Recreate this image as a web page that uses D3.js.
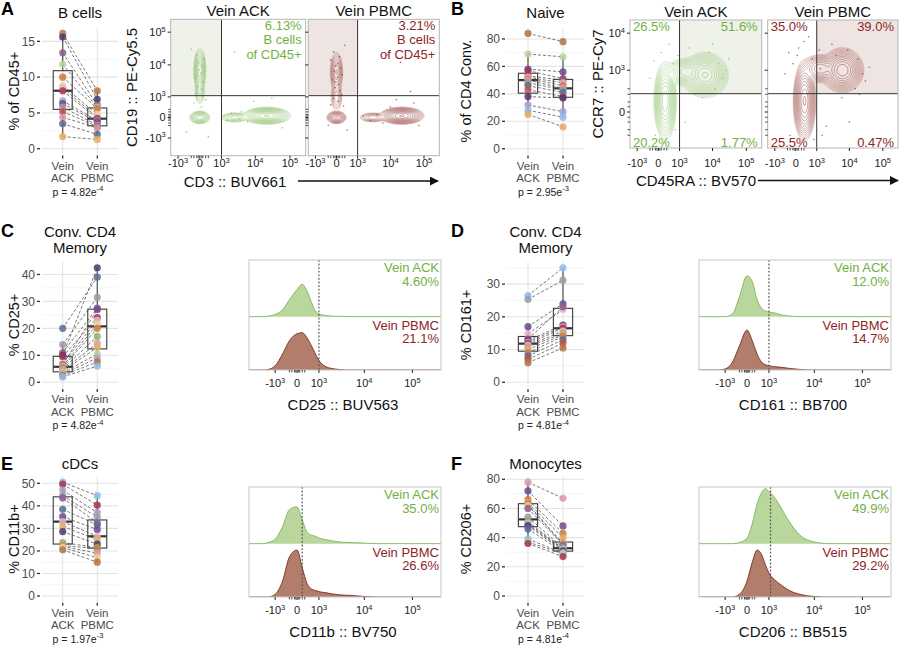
<!DOCTYPE html>
<html>
<head>
<meta charset="utf-8">
<script src="https://cdn.jsdelivr.net/npm/d3@7/dist/d3.min.js"></script>
<style>
  html,body{margin:0;padding:0;background:#fff;}
  svg text{font-family:"Liberation Sans",Arial,Helvetica,sans-serif;}
</style>
</head>
<body>
<svg id="fig" width="900" height="651" viewBox="0 0 900 651"></svg>
<script>
// ======================= DATA =======================
const groupNames = ["Vein ACK", "Vein PBMC"];
const groupLabelLines = [["Vein", "ACK"], ["Vein", "PBMC"]];

// donor identities -> colour palette (one colour per donor)
const donorPalette = ["#b27447","#4a3a6c","#8e5a8c","#b6d39a","#cf7a3e","#e4d49f","#e8b6c4","#a9344d",
                      "#a99ecb","#6c4b8d","#d89aa9","#5a6c92","#e3ad64","#8dbbea","#8db567","#9d9aa6","#c0504d"];

// A – B cells, % of CD45+
const bcellDonors = [1,2,3,4,5,6,7,8,9,10,16,17,11,12,13];
const bcellACK    = [16.1,15.6,13.4,11.8,10.0,8.8,8.5,8.1,6.7,6.3,5.8,5.2,4.4,3.5,1.7];
const bcellPBMC   = [8.1,6.9,6.1,5.8,5.6,4.8,4.4,4.2,3.9,3.75,3.3,3.1,2.9,2.0,1.3];
const bcellTicks  = [0,5,10,15];

// B – Naive, % of CD4 Conv.
const naiveDonors = [1,4,10,8,3,7,5,11,16,12,17,2,9,14,13];
const naiveACK    = [84,69,58,57,53,52,51,50,48,46,43,38,32,28,25];
const naivePBMC   = [78,67,56,51,50,48,46,44,43,41,38,37,27,23,16];
const naiveTicks  = [0,20,40,60,80];

// C – Conv. CD4 memory, % CD25+
const cd25Donors = [12,16,3,2,8,7,10,6,5,15,11,13,4,9,1,14];
const cd25ACKv   = [20,14,11,10,9.5,7,6.5,6,5.5,5,4.5,4,3.5,3,2.5,2];
const cd25PBMCv  = [39,31.5,27.5,42.5,24,23,27,21.5,20,17,14.5,13,10.5,9,7.5,6];
const cd25Ticks  = [0,10,20,30,40];

// D – Conv. CD4 memory, % CD161+
const cd161Donors = [14,16,10,7,3,2,11,8,6,9,13,5,12,17,1];
const cd161ACKv   = [26.5,25.3,17,14.8,13.2,12.8,12.3,11.8,11.3,10.8,10,9,8,7,6];
const cd161PBMCv  = [35,31.2,24,22.2,23,17.5,17,16.5,15.6,15,14.5,14,13,12,10.5];
const cd161Ticks  = [0,10,20,30];

// E – cDCs, % CD11b+
const cd11bDonors = [14,8,9,16,3,12,10,7,13,2,15,5,11,6,1];
const cd11bACKv   = [50.5,49.6,47,44.5,43.5,38.5,35.2,33,30.8,28.6,23.7,22.4,22,21.5,20.5];
const cd11bPBMCv  = [44.5,40.3,37,35,32.5,31.5,29.5,26.5,25,23,21.5,21,19,17,15];
const cd11bTicks  = [0,10,20,30,40,50];

// F – Monocytes, % CD206+
const cd206Donors = [11,10,5,13,1,6,3,16,15,7,9,2,12,14,4,8];
const cd206ACKv   = [78,72,66,64,63,62,60,54,51,50,49,48,46,39,37,36];
const cd206PBMCv  = [67,48,43,40,36,35.5,35,33,32.5,32,31.5,31,30,29.5,29,27];
const cd206Ticks  = [0,20,40,60,80];

// flow axis ticks (biexponential display)
const flowTickValues = [-1000, 0, 1000, 10000, 100000];
const flowTickLabels = [["-10","3"],["0",""],["10","3"],["10","4"],["10","5"]];
const flowTickValuesCCR7 = [0, 1000, 10000];
const flowTickLabelsCCR7 = [["0",""],["10","3"],["10","4"]];
const minorTickValues = [-300,-200,-100,-50,50,100,200,300];

// flow populations (centre in fluorescence units, spread in asinh units, relative density)
const bcellFlowACK = [
  {x:0, y:6900, sx:0.13, sy:0.50, w:0.22},
  {x:0, y:1500, sx:0.12, sy:0.35, w:0.04},
  {x:0, y:0, sx:0.21, sy:0.14, w:0.30},
  {x:21600, y:60, sx:0.45, sy:0.17, w:1.00},
  {x:2500, y:0, sx:0.32, sy:0.12, w:0.07}];
const bcellFlowPBMC = [
  {x:0, y:6000, sx:0.15, sy:0.50, w:0.09},
  {x:0, y:1000, sx:0.15, sy:0.40, w:0.03},
  {x:0, y:0, sx:0.21, sy:0.14, w:0.25},
  {x:22000, y:60, sx:0.43, sy:0.17, w:1.00},
  {x:3000, y:0, sx:0.34, sy:0.12, w:0.05}];
const naiveFlowACK = [
  {x:6000, y:740, sx:0.45, sy:0.40, w:1.00},
  {x:240, y:110, sx:0.22, sy:0.70, w:0.85},
  {x:1500, y:890, sx:0.42, sy:0.28, w:0.18}];
const naiveFlowPBMC = [
  {x:6200, y:1000, sx:0.42, sy:0.40, w:0.85},
  {x:320, y:110, sx:0.22, sy:0.70, w:1.00},
  {x:1300, y:1100, sx:0.42, sy:0.28, w:0.22}];

// sparse individual events outside the contours
const bcellEventsACK = [
  {x:-100,y:20000},{x:150,y:15000},{x:-50,y:12000},{x:80,y:9000},{x:-150,y:4000},{x:100,y:3000},{x:-80,y:2200},
  {x:60,y:1800},{x:-120,y:1300},{x:200,y:800},{x:-200,y:600},{x:50,y:400},{x:1500,y:-100},{x:2000,y:150},
  {x:3500,y:-50},{x:4000,y:200},{x:6000,y:-150},{x:1200,y:50},{x:9000,y:700},{x:30000,y:900},{x:60000,y:-400},
  {x:-500,y:-600},{x:300,y:-900},{x:-300,y:30000},{x:2500,y:25000},{x:-20,y:7000},{x:40,y:5500}];
const bcellEventsPBMC = [
  {x:-100,y:25000},{x:100,y:18000},{x:-200,y:14000},{x:50,y:11000},{x:150,y:8000},{x:-80,y:6500},{x:200,y:5000},
  {x:-150,y:3500},{x:80,y:2500},{x:-50,y:2000},{x:120,y:1600},{x:-100,y:900},{x:60,y:700},{x:-200,y:500},
  {x:250,y:450},{x:-300,y:-300},{x:400,y:-500},{x:1500,y:50},{x:2500,y:-100},{x:4000,y:100},{x:6000,y:-200},
  {x:15000,y:800},{x:40000,y:1500},{x:70000,y:-300},{x:20000,y:12000},{x:8000,y:20000},{x:300,y:40000},
  {x:-30,y:9500},{x:30,y:4200},{x:-60,y:3000},{x:180,y:1200},{x:10000,y:400},{x:50000,y:600}];
const naiveEventsACK = [
  {x:100,y:3000},{x:400,y:5000},{x:2000,y:4000},{x:8000,y:3000},{x:15000,y:1500},{x:20000,y:600},{x:12000,y:300},
  {x:3000,y:200},{x:-100,y:-300},{x:700,y:-200},{x:1500,y:-100},{x:-300,y:600},{x:200,y:-500},{x:5000,y:150},
  {x:30000,y:2000},{x:600,y:1500},{x:-150,y:1800},{x:900,y:2500},{x:10000,y:5000},{x:25000,y:1000}];
const naiveEventsPBMC = [
  {x:100,y:4000},{x:300,y:6000},{x:1200,y:3500},{x:3000,y:5000},{x:9000,y:3500},{x:18000,y:2000},{x:25000,y:800},
  {x:15000,y:300},{x:6000,y:150},{x:-200,y:-300},{x:800,y:-400},{x:2000,y:-150},{x:-400,y:800},{x:50,y:2500},
  {x:40000,y:1200},{x:10000,y:-100},{x:500,y:8000},{x:-100,y:1500},{x:700,y:2000},{x:-250,y:3000},{x:4000,y:2500},
  {x:20000,y:200},{x:30000,y:500},{x:1500,y:-300}];

// quadrant frequencies
const bcellPctACK = "6.13%", bcellPctPBMC = "3.21%";
const naiveQuadACK  = ["26.5%","51.6%","20.2%","1.77%"];
const naiveQuadPBMC = ["35.0%","39.0%","25.5%","0.47%"];

// histograms (fraction of lane height at each fluorescence value)
const histGrid = [-4000,-3000,-2000,-1500,-1000,-600,-300,0,200,400,600,800,1000,1500,2000,3000,5000,10000,20000,50000,100000,200000,400000];
const cd25HistACK   = [0,0,0,0.01,0.04,0.12,0.30,0.48,0.57,0.45,0.25,0.10,0.05,0.02,0.01,0.005,0,0,0,0,0,0,0];
const cd25HistPBMC  = [0,0,0,0.01,0.08,0.30,0.55,0.68,0.70,0.60,0.45,0.30,0.18,0.06,0.03,0.01,0,0,0,0,0,0,0];
const cd161HistACK  = [0,0,0,0,0,0.05,0.35,0.72,0.62,0.30,0.15,0.10,0.08,0.06,0.03,0.01,0,0,0,0,0,0,0];
const cd161HistPBMC = [0,0,0,0,0.02,0.15,0.45,0.75,0.55,0.30,0.15,0.10,0.08,0.06,0.05,0.03,0.01,0,0,0,0,0,0];
const cd11bHistACK  = [0,0,0,0.02,0.08,0.30,0.60,0.65,0.42,0.20,0.15,0.13,0.10,0.07,0.05,0.03,0.02,0.01,0,0,0,0,0];
const cd11bHistPBMC = [0,0,0,0,0.05,0.30,0.75,0.88,0.55,0.25,0.15,0.12,0.10,0.08,0.06,0.04,0.03,0.01,0,0,0,0,0];
const cd206HistACK  = [0,0,0,0,0,0,0.02,0.10,0.35,0.70,0.90,0.97,0.92,0.78,0.62,0.38,0.15,0.03,0,0,0,0,0];
const cd206HistPBMC = [0,0,0,0,0,0,0.05,0.30,0.65,0.88,0.80,0.60,0.45,0.30,0.22,0.12,0.05,0.01,0,0,0,0,0];
const histPct = {cd25:["4.60%","21.1%"], cd161:["12.0%","14.7%"], cd11b:["35.0%","26.6%"], cd206:["49.9%","29.2%"]};
const histGates = {cd25:1000, cd161:1000, cd11b:200, cd206:1100};

// ======================= DRAWING =======================
const svg = d3.select("#fig");
svg.append("rect").attr("width",900).attr("height",651).attr("fill","#fff");
const defs = svg.append("defs");
defs.append("marker").attr("id","arrowHead").attr("viewBox","0 0 10 10").attr("refX",9).attr("refY",5)
  .attr("markerWidth",9).attr("markerHeight",9).attr("orient","auto").attr("markerUnits","userSpaceOnUse")
  .append("path").attr("d","M0,0 L10,5 L0,10 z").attr("fill","#111");

const GREEN_TXT = "#72b043", RED_TXT = "#8c2626";
const AX_TXT = "#4d4d4d";

function supText(sel, base, sup, size) {
  sel.append("tspan").text(base);
  if (sup) sel.append("tspan").attr("font-size", size).attr("dy", -size*0.6).text(sup);
}

const rows = [{top:27.7,bottom:154.5},{top:262,bottom:388},{top:476.5,bottom:601.7}];

function drawBoxPanel(cfg) {
  const row = rows[cfg.row];
  const g = svg.append("g");
  const x = d3.scalePoint().domain(groupNames).range([cfg.left, cfg.right]).padding(0.6);
  const M = d3.max(cfg.ack.concat(cfg.pbmc));
  const y = d3.scaleLinear().domain([-0.05*M, 1.05*M]).range([row.bottom, row.top]);
  const [d0, d1] = y.domain();
  const step = cfg.ticks[1]-cfg.ticks[0];
  const minor = d3.range(cfg.ticks[0]-step/2, d1, step).filter(v => v >= d0 && v <= d1);
  g.selectAll(null).data(minor).join("line")
    .attr("x1",cfg.left).attr("x2",cfg.right).attr("y1",d=>y(d)).attr("y2",d=>y(d))
    .attr("stroke","#f2f2f2").attr("stroke-width",0.8);
  g.selectAll(null).data(cfg.ticks).join("line")
    .attr("x1",cfg.left).attr("x2",cfg.right).attr("y1",d=>y(d)).attr("y2",d=>y(d))
    .attr("stroke","#e4e4e4").attr("stroke-width",1.1);
  g.selectAll(null).data(groupNames).join("line")
    .attr("x1",d=>x(d)).attr("x2",d=>x(d)).attr("y1",row.top).attr("y2",row.bottom)
    .attr("stroke","#e4e4e4").attr("stroke-width",1.1);
  // y axis
  g.selectAll(null).data(cfg.ticks).join("line")
    .attr("x1",cfg.left-5).attr("x2",cfg.left-2).attr("y1",d=>y(d)).attr("y2",d=>y(d))
    .attr("stroke","#333").attr("stroke-width",1.3);
  g.selectAll(null).data(cfg.ticks).join("text")
    .attr("x",cfg.left-7).attr("y",d=>y(d)+4.2).attr("text-anchor","end")
    .attr("font-size",12).attr("fill",AX_TXT).text(d=>d);
  // x axis
  g.selectAll(null).data(groupNames).join("line")
    .attr("x1",d=>x(d)).attr("x2",d=>x(d)).attr("y1",row.bottom+1).attr("y2",row.bottom+4)
    .attr("stroke","#333").attr("stroke-width",1.3);
  groupNames.forEach((gn,gi) => {
    groupLabelLines[gi].forEach((ln,li) => {
      g.append("text").attr("x",x(gn)).attr("y",row.bottom+15+li*12.5).attr("text-anchor","middle")
        .attr("font-size",11.5).attr("fill",AX_TXT).text(ln);
    });
  });
  const midX = (x(groupNames[0])+x(groupNames[1]))/2;
  const pt = g.append("text").attr("x",midX-2).attr("y",row.bottom+41).attr("text-anchor","middle")
    .attr("font-size",10.5).attr("fill","#222");
  supText(pt, "p = "+cfg.p[0]+"e", cfg.p[1], 7.5);
  // title
  cfg.title.forEach((t,i) => {
    g.append("text").attr("x",midX).attr("y",cfg.titleY+i*16).attr("text-anchor","middle")
      .attr("font-size",15).attr("fill","#111").text(t);
  });
  // letter
  g.append("text").attr("x",cfg.letterX).attr("y",cfg.letterY).attr("font-size",18)
    .attr("font-weight","bold").attr("fill","#000").text(cfg.letter);
  // y title
  g.append("text").attr("transform",`translate(${cfg.ylabX},${(row.top+row.bottom)/2}) rotate(-90)`)
    .attr("text-anchor","middle").attr("font-size",14.5).attr("fill","#111").text(cfg.ylab);
  // boxes
  [cfg.ack, cfg.pbmc].forEach((vals, gi) => {
    const s = vals.slice().sort(d3.ascending);
    const q1 = d3.quantileSorted(s,0.25), med = d3.quantileSorted(s,0.5), q3 = d3.quantileSorted(s,0.75);
    const iqr = q3-q1;
    const lo = d3.min(s.filter(v => v >= q1-1.5*iqr)), hi = d3.max(s.filter(v => v <= q3+1.5*iqr));
    const cx = x(groupNames[gi]), bw = x.step()*0.55;
    g.append("line").attr("x1",cx).attr("x2",cx).attr("y1",y(hi)).attr("y2",y(q3)).attr("stroke","#444").attr("stroke-width",1.1);
    g.append("line").attr("x1",cx).attr("x2",cx).attr("y1",y(q1)).attr("y2",y(lo)).attr("stroke","#444").attr("stroke-width",1.1);
    g.append("rect").attr("x",cx-bw/2).attr("y",y(q3)).attr("width",bw).attr("height",y(q1)-y(q3))
      .attr("fill","none").attr("stroke","#3a3a3a").attr("stroke-width",1.1);
    g.append("line").attr("x1",cx-bw/2).attr("x2",cx+bw/2).attr("y1",y(med)).attr("y2",y(med))
      .attr("stroke","#333").attr("stroke-width",2.2);
  });
  // paired lines
  g.selectAll(null).data(cfg.ack).join("line")
    .attr("x1",x(groupNames[0])).attr("x2",x(groupNames[1]))
    .attr("y1",d=>y(d)).attr("y2",(d,i)=>y(cfg.pbmc[i]))
    .attr("stroke","#555").attr("stroke-width",0.8).attr("stroke-dasharray","3,2");
  // points
  [cfg.ack, cfg.pbmc].forEach((vals, gi) => {
    g.selectAll(null).data(vals).join("circle")
      .attr("cx",x(groupNames[gi])).attr("cy",d=>y(d)).attr("r",3.6)
      .attr("fill",(d,i)=>donorPalette[(cfg.donors[i]-1)%donorPalette.length]).attr("fill-opacity",0.85);
  });
}

let clipCount = 0;
function drawFlow(cfg) {
  const f = cfg.frame;
  const g = svg.append("g");
  const xS = d3.scaleLinear().domain([Math.asinh(cfg.xDom[0]/cfg.xc), Math.asinh(cfg.xDom[1]/cfg.xc)]).range([f.left, f.left+f.w]);
  const yS = d3.scaleLinear().domain([Math.asinh(cfg.yDom[0]/cfg.yc), Math.asinh(cfg.yDom[1]/cfg.yc)]).range([f.top+f.h, f.top]);
  const X = v => xS(Math.asinh(v/cfg.xc)), Y = v => yS(Math.asinh(v/cfg.yc));
  const cid = "clip"+(clipCount++);
  defs.append("clipPath").attr("id",cid).append("rect").attr("x",f.left).attr("y",f.top).attr("width",f.w).attr("height",f.h);
  const inner = g.append("g").attr("clip-path",`url(#${cid})`);
  // shaded gate
  const gx = X(cfg.gateX), gy = Y(cfg.gateY);
  if (cfg.shade === "TL") inner.append("rect").attr("x",f.left).attr("y",f.top).attr("width",gx-f.left).attr("height",gy-f.top).attr("fill",cfg.shadeColor);
  else inner.append("rect").attr("x",gx).attr("y",f.top).attr("width",f.left+f.w-gx).attr("height",gy-f.top).attr("fill",cfg.shadeColor);
  // density grid from populations
  const nx = Math.round(f.w), ny = Math.round(f.h);
  const vals = new Float64Array(nx*ny);
  const pops = cfg.pops.map(p => ({cx:Math.asinh(p.x/cfg.xc), cy:Math.asinh(p.y/cfg.yc), sx:p.sx, sy:p.sy, w:p.w}));
  for (let j=0;j<ny;j++) {
    const ty = yS.invert(f.top+j+0.5);
    for (let i=0;i<nx;i++) {
      const tx = xS.invert(f.left+i+0.5);
      let s = 0;
      for (const p of pops) {
        const dx=(tx-p.cx)/p.sx, dy=(ty-p.cy)/p.sy;
        s += p.w*Math.exp(-0.5*(dx*dx+dy*dy));
      }
      vals[j*nx+i] = s;
    }
  }
  const mx = d3.max(vals);
  const thr = d3.range(14).map(k => mx*0.92*Math.pow(0.62,k)).reverse();
  const cont = d3.contours().size([nx,ny]).thresholds(thr)(vals);
  // individual events
  inner.selectAll(null).data(cfg.events).join("circle")
    .attr("cx",d=>X(d.x)).attr("cy",d=>Y(d.y)).attr("r",0.8)
    .attr("fill",cfg.color).attr("fill-opacity",0.8);
  inner.append("g").attr("transform",`translate(${f.left},${f.top})`)
    .selectAll("path").data(cont).join("path").attr("d",d3.geoPath())
    .attr("fill","none").attr("stroke",cfg.color).attr("stroke-width",0.6)
    .attr("stroke-opacity",(d,i)=>0.4+0.55*i/cont.length);
  // gates
  g.append("line").attr("x1",gx).attr("x2",gx).attr("y1",f.top).attr("y2",f.top+f.h).attr("stroke","#333").attr("stroke-width",1);
  g.append("line").attr("x1",f.left).attr("x2",f.left+f.w).attr("y1",gy).attr("y2",gy).attr("stroke","#333").attr("stroke-width",1);
  // frame
  g.append("rect").attr("x",f.left).attr("y",f.top).attr("width",f.w).attr("height",f.h)
    .attr("fill","none").attr("stroke","#b5b5b5").attr("stroke-width",1);
  // ticks
  const bt = f.top+f.h;
  g.selectAll(null).data(cfg.xTicks).join("line").attr("x1",d=>X(d)).attr("x2",d=>X(d)).attr("y1",bt).attr("y2",bt+3).attr("stroke","#222");
  g.selectAll(null).data(minorTickValues).join("line").attr("x1",d=>X(d)).attr("x2",d=>X(d)).attr("y1",bt).attr("y2",bt+2.5).attr("stroke","#222").attr("stroke-width",0.8);
  g.selectAll(null).data(cfg.yTicks).join("line").attr("x1",f.left-3).attr("x2",f.left).attr("y1",d=>Y(d)).attr("y2",d=>Y(d)).attr("stroke","#222");
  g.selectAll(null).data(minorTickValues).join("line").attr("x1",f.left-2.5).attr("x2",f.left).attr("y1",d=>Y(d)).attr("y2",d=>Y(d)).attr("stroke","#222").attr("stroke-width",0.8);
  cfg.xTicks.forEach((v,i) => {
    const t = g.append("text").attr("x",X(v)).attr("y",cfg.xLabelY).attr("text-anchor","middle").attr("font-size",11).attr("fill","#222");
    supText(t, cfg.xTickLabels[i][0], cfg.xTickLabels[i][1], 7.5);
  });
  if (cfg.showY) {
    cfg.yTicks.forEach((v,i) => {
      const t = g.append("text").attr("x",f.left-5).attr("y",Y(v)+4).attr("text-anchor","end").attr("font-size",11).attr("fill","#222");
      supText(t, cfg.yTickLabels[i][0], cfg.yTickLabels[i][1], 7.5);
    });
  }
  // title
  g.append("text").attr("x",f.left+f.w/2).attr("y",f.top-3.5).attr("text-anchor","middle").attr("font-size",15).attr("fill","#111").text(cfg.title);
  // labels
  cfg.labels.forEach(l => {
    let xx, anchor;
    if (l.pos === "TL" || l.pos === "BL") { xx = f.left+3; anchor = "start"; } else { xx = f.left+f.w-4; anchor = "end"; }
    const yy = (l.pos[0] === "T") ? f.top+10.5+l.line*14.5 : f.top+f.h-1.5;
    g.append("text").attr("x",xx).attr("y",yy).attr("text-anchor",anchor).attr("font-size",13).attr("fill",cfg.txtColor).text(l.text);
  });
}

function drawHist(cfg) {
  const f = cfg.frame;
  const g = svg.append("g");
  const c = 800;
  const xS = d3.scaleLinear().domain([Math.asinh(-3950/c), Math.asinh(393000/c)]).range([f.left, f.right]);
  const X = v => xS(Math.asinh(v/c));
  const mid = f.top + (f.bottom-f.top)*0.515;
  const cid = "clip"+(clipCount++);
  defs.append("clipPath").attr("id",cid).append("rect").attr("x",f.left).attr("y",f.top).attr("width",f.right-f.left).attr("height",f.bottom-f.top);
  const inner = g.append("g").attr("clip-path",`url(#${cid})`);
  const lanes = [
    {vals:cfg.ack, base:mid, h:mid-f.top, fill:"#b9d79d", stroke:"#7fb35a"},
    {vals:cfg.pbmc, base:f.bottom, h:f.bottom-mid, fill:"#b27d6b", stroke:"#7a2b25"}];
  lanes.forEach(L => {
    const pts = histGrid.map((v,i) => ({x:v, h:L.vals[i]}));
    const area = d3.area().x(d=>X(d.x)).y0(L.base).y1(d=>L.base-d.h*L.h).curve(d3.curveMonotoneX);
    const line = d3.line().x(d=>X(d.x)).y(d=>L.base-d.h*L.h).curve(d3.curveMonotoneX);
    inner.append("path").attr("d",area(pts)).attr("fill",L.fill);
    inner.append("path").attr("d",line(pts)).attr("fill","none").attr("stroke",L.stroke).attr("stroke-width",0.9);
  });
  const gx = X(cfg.gate);
  g.append("line").attr("x1",gx).attr("x2",gx).attr("y1",f.top).attr("y2",f.bottom).attr("stroke","#555").attr("stroke-width",1.2).attr("stroke-dasharray","1.8,1.8");
  g.append("rect").attr("x",f.left).attr("y",f.top).attr("width",f.right-f.left).attr("height",f.bottom-f.top)
    .attr("fill","none").attr("stroke","#c6c6c6").attr("stroke-width",1);
  // ticks
  g.selectAll(null).data(flowTickValues).join("line").attr("x1",d=>X(d)).attr("x2",d=>X(d)).attr("y1",f.bottom).attr("y2",f.bottom+3).attr("stroke","#222");
  g.selectAll(null).data(minorTickValues).join("line").attr("x1",d=>X(d)).attr("x2",d=>X(d)).attr("y1",f.bottom).attr("y2",f.bottom+2.5).attr("stroke","#222").attr("stroke-width",0.8);
  flowTickValues.forEach((v,i) => {
    const t = g.append("text").attr("x",X(v)).attr("y",f.bottom+17).attr("text-anchor","middle").attr("font-size",11).attr("fill","#222");
    supText(t, flowTickLabels[i][0], flowTickLabels[i][1], 7.5);
  });
  g.append("text").attr("x",(f.left+f.right)/2-2).attr("y",f.bottom+40).attr("text-anchor","middle").attr("font-size",15).attr("fill","#111").text(cfg.title);
  // labels
  const rx = f.right-2;
  g.append("text").attr("x",rx).attr("y",f.top+12).attr("text-anchor","end").attr("font-size",13).attr("fill",GREEN_TXT).text(groupNames[0]);
  g.append("text").attr("x",rx).attr("y",f.top+25.5).attr("text-anchor","end").attr("font-size",13).attr("fill",GREEN_TXT).text(cfg.pct[0]);
  g.append("text").attr("x",rx).attr("y",mid+13).attr("text-anchor","end").attr("font-size",13).attr("fill",RED_TXT).text(groupNames[1]);
  g.append("text").attr("x",rx).attr("y",mid+26.5).attr("text-anchor","end").attr("font-size",13).attr("fill",RED_TXT).text(cfg.pct[1]);
}

// ----- box panels -----
drawBoxPanel({row:0,left:42,right:118,ack:bcellACK,pbmc:bcellPBMC,donors:bcellDonors,ticks:bcellTicks,
  title:["B cells"],titleY:18,ylab:"% of CD45+",ylabX:19,p:["4.82","-4"],letter:"A",letterX:1,letterY:15});
drawBoxPanel({row:0,left:507,right:584,ack:naiveACK,pbmc:naivePBMC,donors:naiveDonors,ticks:naiveTicks,
  title:["Naive"],titleY:18,ylab:"% of CD4 Conv.",ylabX:471,p:["2.95","-3"],letter:"B",letterX:451,letterY:15});
drawBoxPanel({row:1,left:42,right:118,ack:cd25ACKv,pbmc:cd25PBMCv,donors:cd25Donors,ticks:cd25Ticks,
  title:["Conv. CD4","Memory"],titleY:237,ylab:"% CD25+",ylabX:19,p:["4.82","-4"],letter:"C",letterX:1,letterY:237});
drawBoxPanel({row:1,left:507,right:584,ack:cd161ACKv,pbmc:cd161PBMCv,donors:cd161Donors,ticks:cd161Ticks,
  title:["Conv. CD4","Memory"],titleY:237,ylab:"% CD161+",ylabX:471,p:["4.81","-4"],letter:"D",letterX:451,letterY:237});
drawBoxPanel({row:2,left:42,right:118,ack:cd11bACKv,pbmc:cd11bPBMCv,donors:cd11bDonors,ticks:cd11bTicks,
  title:["cDCs"],titleY:469,ylab:"% CD11b+",ylabX:19,p:["1.97","-3"],letter:"E",letterX:1,letterY:470});
drawBoxPanel({row:2,left:507,right:584,ack:cd206ACKv,pbmc:cd206PBMCv,donors:cd206Donors,ticks:cd206Ticks,
  title:["Monocytes"],titleY:469,ylab:"% CD206+",ylabX:471,p:["4.81","-4"],letter:"F",letterX:451,letterY:470});

// ----- flow plots -----
const bDomX = [-1690, 285000], bDomY = [-3660, 247000];
drawFlow({frame:{left:170.7,top:19.3,w:135,h:136.4}, xc:500, yc:500, xDom:bDomX, yDom:bDomY,
  pops:bcellFlowACK, events:bcellEventsACK, color:"#86bd60", gateX:1000, gateY:1100, shade:"TL", shadeColor:"#eef2e9",
  xTicks:flowTickValues, xTickLabels:flowTickLabels, yTicks:flowTickValues, yTickLabels:flowTickLabels, showY:true, xLabelY:167,
  title:groupNames[0], txtColor:GREEN_TXT,
  labels:[{pos:"TR",line:0,text:bcellPctACK},{pos:"TR",line:1,text:"B cells"},{pos:"TR",line:2,text:"of CD45+"}]});
drawFlow({frame:{left:308.3,top:19.3,w:131,h:136.4}, xc:500, yc:500, xDom:bDomX, yDom:bDomY,
  pops:bcellFlowPBMC, events:bcellEventsPBMC, color:"#94403a", gateX:1000, gateY:1100, shade:"TL", shadeColor:"#eee5e2",
  xTicks:flowTickValues, xTickLabels:flowTickLabels, yTicks:flowTickValues, yTickLabels:flowTickLabels, showY:false, xLabelY:167,
  title:groupNames[1], txtColor:RED_TXT,
  labels:[{pos:"TR",line:0,text:bcellPctPBMC},{pos:"TR",line:1,text:"B cells"},{pos:"TR",line:2,text:"of CD45+"}]});
const nDomX = [-1690, 285000], nDomY = [-693, 22700];
drawFlow({frame:{left:630,top:20,w:131.7,h:128}, xc:500, yc:150, xDom:nDomX, yDom:nDomY,
  pops:naiveFlowACK, events:naiveEventsACK, color:"#86bd60", gateX:1000, gateY:210, shade:"TR", shadeColor:"#eef2e9",
  xTicks:flowTickValues, xTickLabels:flowTickLabels, yTicks:flowTickValuesCCR7, yTickLabels:flowTickLabelsCCR7, showY:true, xLabelY:167,
  title:groupNames[0], txtColor:GREEN_TXT,
  labels:[{pos:"TL",line:0,text:naiveQuadACK[0]},{pos:"TR",line:0,text:naiveQuadACK[1]},{pos:"BL",line:0,text:naiveQuadACK[2]},{pos:"BR",line:0,text:naiveQuadACK[3]}]});
drawFlow({frame:{left:767.7,top:20,w:130.3,h:128}, xc:500, yc:150, xDom:nDomX, yDom:nDomY,
  pops:naiveFlowPBMC, events:naiveEventsPBMC, color:"#94403a", gateX:1000, gateY:210, shade:"TR", shadeColor:"#eee5e2",
  xTicks:flowTickValues, xTickLabels:flowTickLabels, yTicks:flowTickValuesCCR7, yTickLabels:flowTickLabelsCCR7, showY:false, xLabelY:167,
  title:groupNames[1], txtColor:RED_TXT,
  labels:[{pos:"TL",line:0,text:naiveQuadPBMC[0]},{pos:"TR",line:0,text:naiveQuadPBMC[1]},{pos:"BL",line:0,text:naiveQuadPBMC[2]},{pos:"BR",line:0,text:naiveQuadPBMC[3]}]});

// flow axis titles and arrows
svg.append("text").attr("transform","translate(137,87.5) rotate(-90)").attr("text-anchor","middle").attr("font-size",15).attr("fill","#111").text("CD19 :: PE-Cy5.5");
svg.append("text").attr("x",235).attr("y",186.5).attr("text-anchor","middle").attr("font-size",15).attr("fill","#111").text("CD3 :: BUV661");
svg.append("line").attr("x1",298).attr("x2",438).attr("y1",181).attr("y2",181).attr("stroke","#111").attr("stroke-width",1.3).attr("marker-end","url(#arrowHead)");
svg.append("text").attr("transform","translate(603,84) rotate(-90)").attr("text-anchor","middle").attr("font-size",15).attr("fill","#111").text("CCR7 :: PE-Cy7");
svg.append("text").attr("x",696).attr("y",186).attr("text-anchor","middle").attr("font-size",15).attr("fill","#111").text("CD45RA :: BV570");
svg.append("line").attr("x1",758).attr("x2",898).attr("y1",180.5).attr("y2",180.5).attr("stroke","#111").attr("stroke-width",1.3).attr("marker-end","url(#arrowHead)");

// ----- histograms -----
drawHist({frame:{left:249,right:441,top:260,bottom:370}, ack:cd25HistACK, pbmc:cd25HistPBMC, gate:histGates.cd25, pct:histPct.cd25, title:"CD25 :: BUV563"});
drawHist({frame:{left:699,right:891,top:260,bottom:370}, ack:cd161HistACK, pbmc:cd161HistPBMC, gate:histGates.cd161, pct:histPct.cd161, title:"CD161 :: BB700"});
drawHist({frame:{left:249,right:441,top:487,bottom:597}, ack:cd11bHistACK, pbmc:cd11bHistPBMC, gate:histGates.cd11b, pct:histPct.cd11b, title:"CD11b :: BV750"});
drawHist({frame:{left:699,right:891,top:487,bottom:597}, ack:cd206HistACK, pbmc:cd206HistPBMC, gate:histGates.cd206, pct:histPct.cd206, title:"CD206 :: BB515"});
</script>
</body>
</html>
